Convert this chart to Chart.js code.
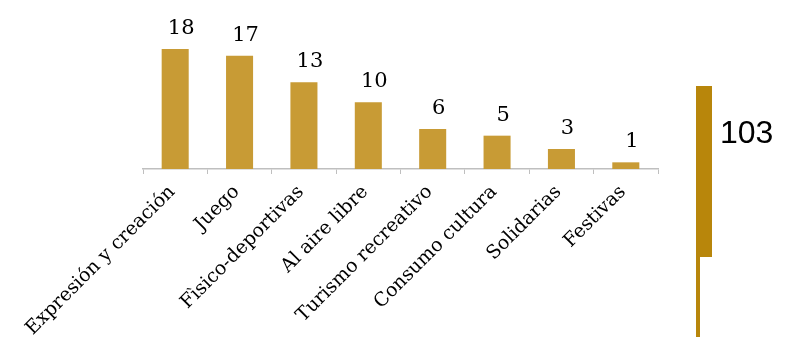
<!DOCTYPE html>
<html>
<head>
<meta charset="utf-8">
<script src="https://cdn.jsdelivr.net/npm/chart.js@4/dist/chart.umd.min.js"></script>
<style>
  html, body { margin: 0; padding: 0; background: #fff; }
  #wrap { position: relative; width: 787px; height: 337px; overflow: hidden; }
  #barTotal { position: absolute; left: 696px; top: 86px; width: 16px; height: 171px; background: #b8860b; }
  #lineTotal { position: absolute; left: 696px; top: 257px; width: 4px; height: 80px; background: #b8860b; }
  #txtTotal { position: absolute; left: 720px; top: 116px; font: 32px "Liberation Sans", Arial, sans-serif; line-height: 32px; color: #000; }
</style>
</head>
<body>
<div id="wrap">
  <canvas id="chart" width="787" height="337"></canvas>
  <div id="barTotal"></div>
  <div id="lineTotal"></div>
  <div id="txtTotal"></div>
</div>
<script>
// === Données ===
const categories = ["Expresión y creación", "Juego", "Fìsico-deportivas", "Al aire libre",
  "Turismo recreativo", "Consumo cultura", "Solidarias", "Festivas"];
const values = [18, 17, 13, 10, 6, 5, 3, 1];
const total = 103;

document.getElementById("txtTotal").textContent = total;

// valeurs au-dessus des barres
const valueLabels = {
  id: "valueLabels",
  afterDatasetsDraw(chart) {
    const ctx = chart.ctx;
    const meta = chart.getDatasetMeta(0);
    ctx.save();
    ctx.font = '21px "DejaVu Serif", serif';
    ctx.fillStyle = "#000";
    ctx.textAlign = "center";
    ctx.textBaseline = "alphabetic";
    meta.data.forEach((bar, i) => {
      ctx.fillText(values[i], bar.x + 6, bar.y - 15);
    });
    ctx.restore();
  }
};

// étiquettes inclinées à 45°
const slantLabels = {
  id: "slantLabels",
  afterDraw(chart) {
    const ctx = chart.ctx;
    const xs = chart.scales.x;
    const y0 = chart.chartArea.bottom;
    ctx.save();
    ctx.font = '19px "DejaVu Serif", serif';
    ctx.fillStyle = "#000";
    ctx.textAlign = "right";
    ctx.textBaseline = "middle";
    categories.forEach((c, i) => {
      const x = xs.getPixelForValue(i);
      ctx.save();
      ctx.translate(x - 3, y0 + 20);
      ctx.rotate(-Math.PI / 4);
      ctx.fillText(c, 0, 0);
      ctx.restore();
    });
    ctx.restore();
  }
};

new Chart(document.getElementById("chart"), {
  type: "bar",
  data: {
    labels: categories,
    datasets: [{
      data: values,
      backgroundColor: "#c89b35",
      barPercentage: 0.42,
      categoryPercentage: 1
    }]
  },
  options: {
    responsive: false,
    animation: false,
    layout: { padding: { left: 143, right: 129, top: 9, bottom: 163 } },
    scales: {
      x: {
        grid: { display: true, drawOnChartArea: false, drawTicks: true, tickLength: 5, color: "#bfbfbf", offset: true },
        border: { display: true, color: "#bfbfbf", width: 1.5 },
        ticks: { display: false }
      },
      y: {
        display: false,
        min: 0,
        max: 24
      }
    },
    plugins: {
      legend: { display: false },
      tooltip: { enabled: false }
    }
  },
  plugins: [valueLabels, slantLabels]
});
</script>
</body>
</html>
